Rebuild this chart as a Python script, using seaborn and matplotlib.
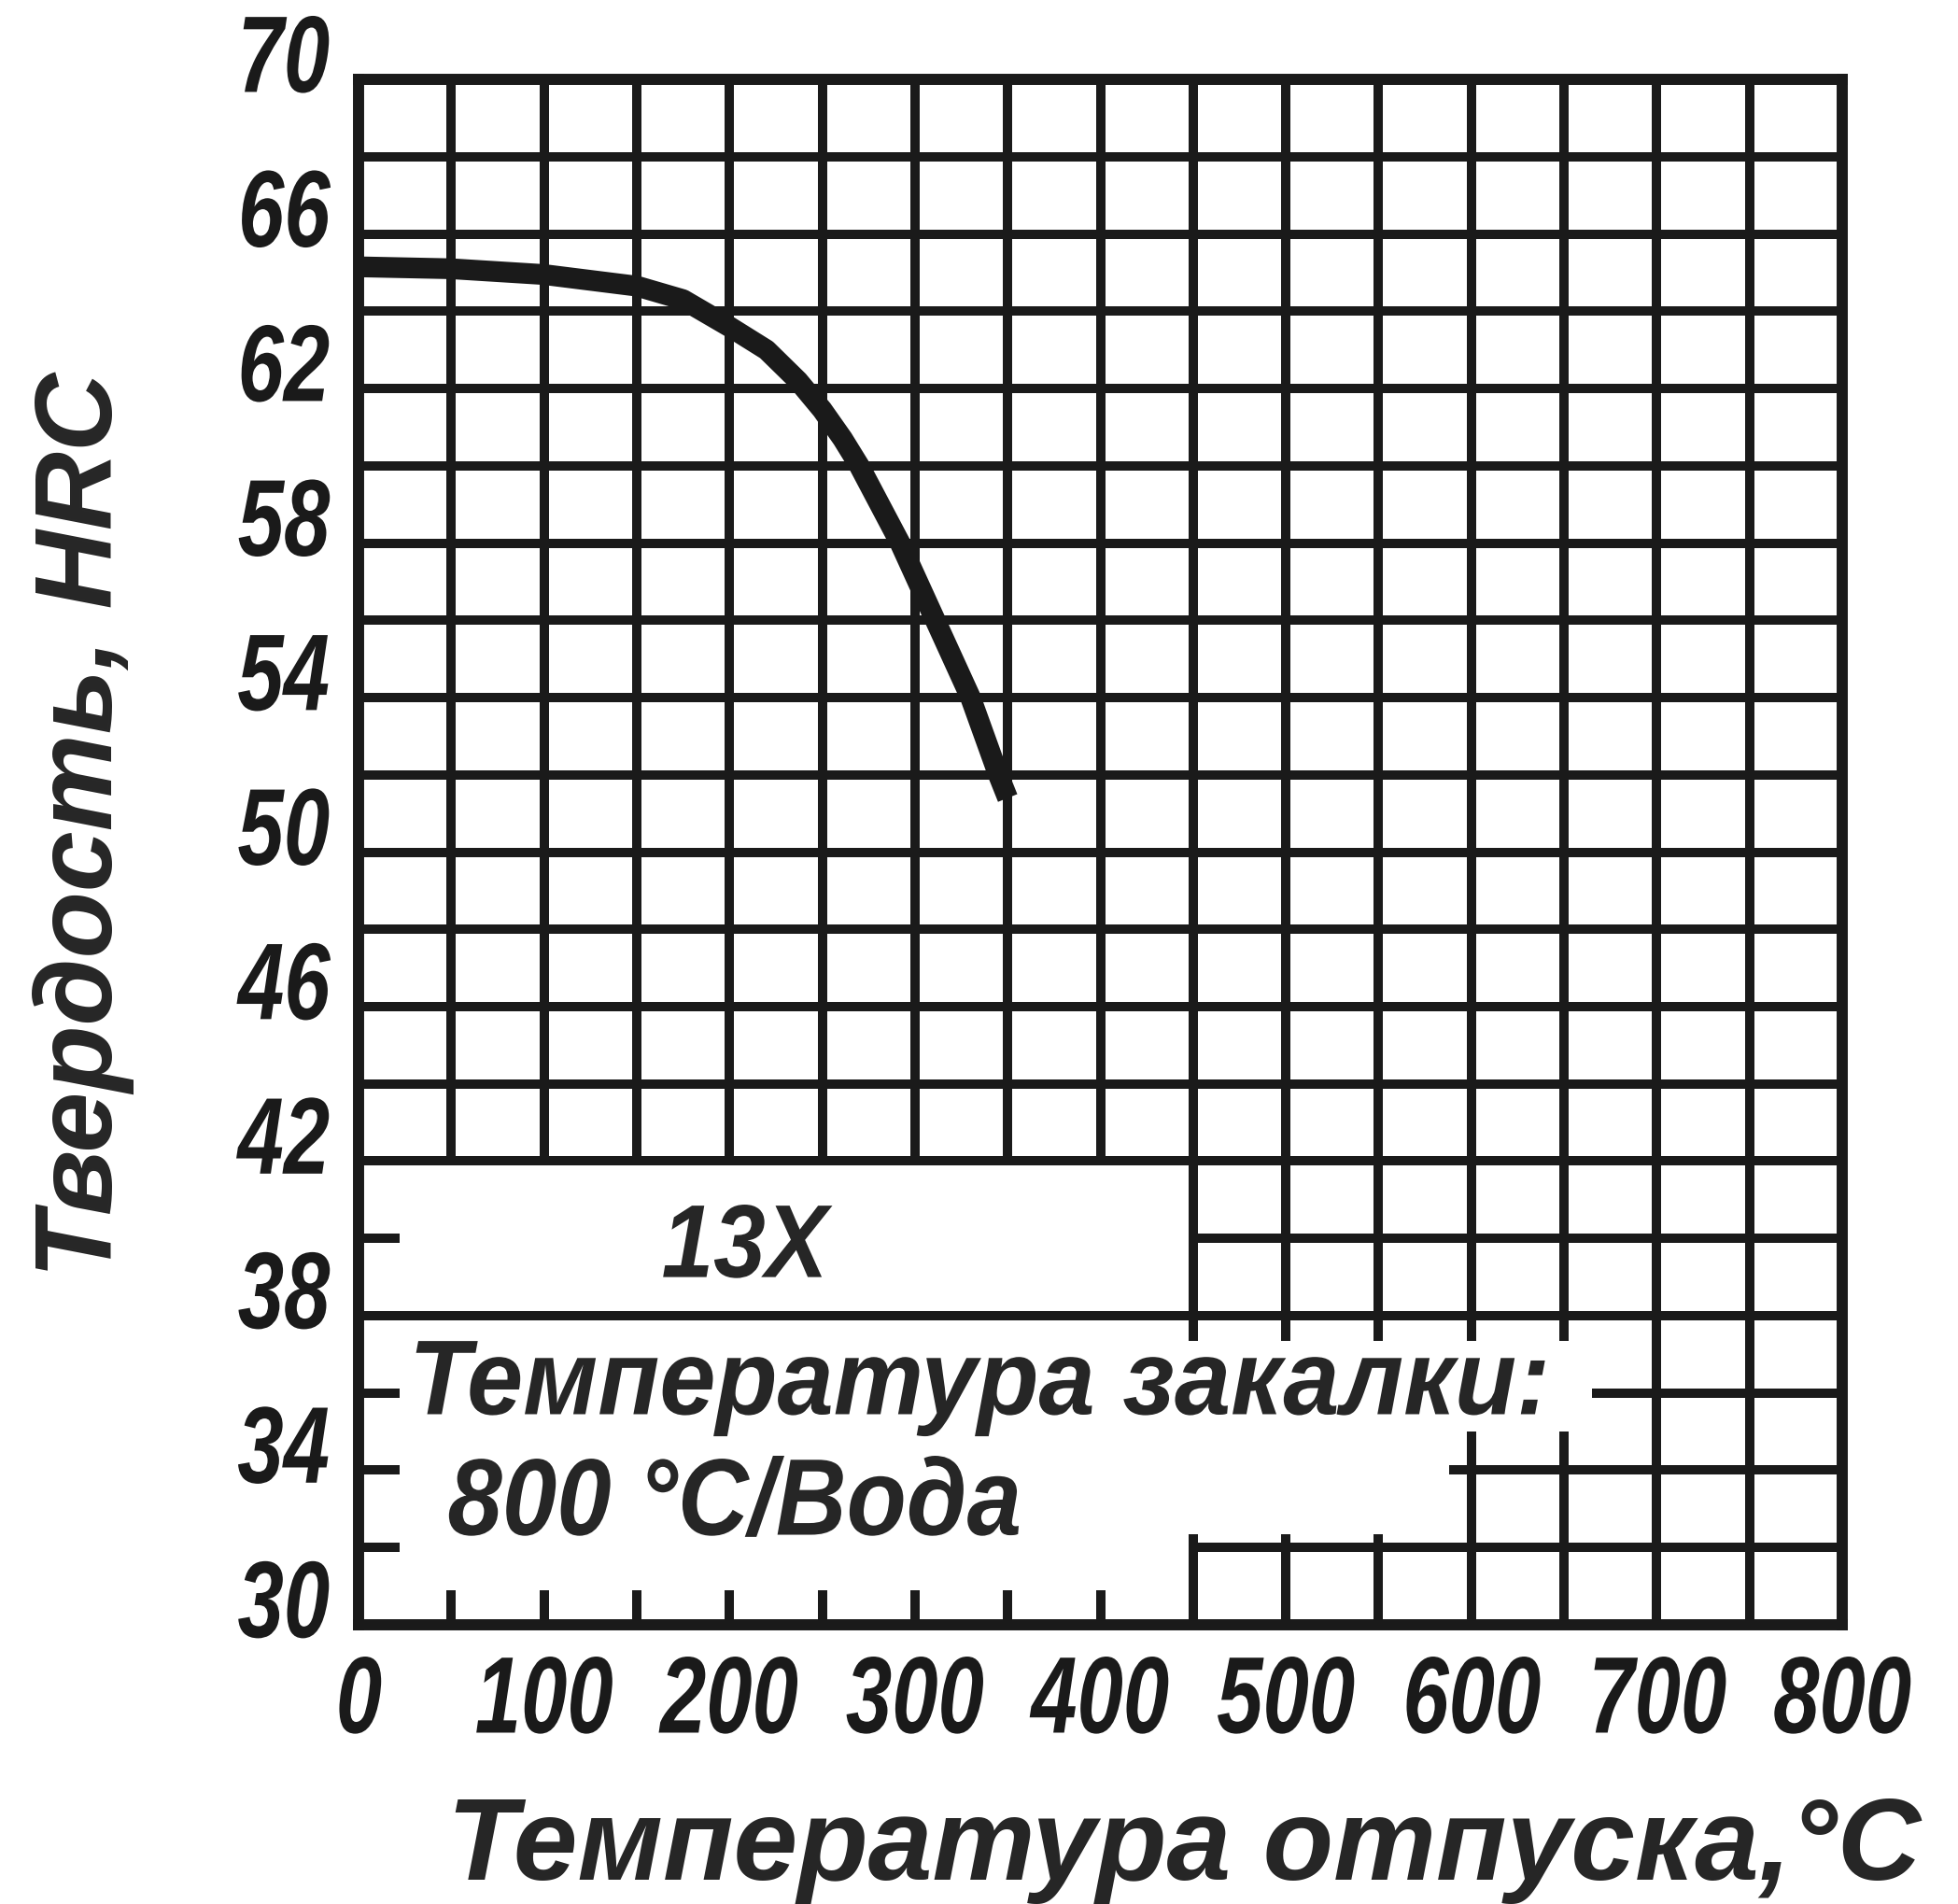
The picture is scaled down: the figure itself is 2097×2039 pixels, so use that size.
import numpy as np
import matplotlib
matplotlib.use('Agg')
import matplotlib.pyplot as plt
from matplotlib.patches import Rectangle
from matplotlib.patheffects import AbstractPathEffect
from matplotlib.transforms import Affine2D, ScaledTranslation
import seaborn as sns

# hardness of steel 13Х after quenching 800 °C / water vs tempering temperature
temper_temp = [0, 50, 100, 150, 175, 200, 220, 237, 250, 261, 270, 292, 311, 330, 345, 350]
hardness = [65.15, 65.1, 64.95, 64.65, 64.3, 63.6, 63.0, 62.2, 61.45, 60.7, 60.0,
            58.0, 56.0, 54.0, 52.0, 51.4]

x_ticks = [0, 100, 200, 300, 400, 500, 600, 700, 800]
x_tick_labels = ['0', '100', '200', '300', '400', '500', '600', '700', '800']
y_ticks = [30, 34, 38, 42, 46, 50, 54, 58, 62, 66, 70]
y_tick_labels = ['30', '34', '38', '42', '46', '50', '54', '58', '62', '66', '70']

steel = '13Х'
quench_line1 = 'Температура закалки:'
quench_line2 = '800 °C/Вода'
x_title = 'Температура отпуска,°C'
y_title = 'Твердость, HRC'

sns.set_theme(style='white')
plt.rcParams['font.family'] = ['Liberation Sans', 'DejaVu Sans']


class SqueezeX(AbstractPathEffect):
    """Draw text glyphs narrower, like the condensed drafting lettering."""

    def __init__(self, sx, anchor='center'):
        super().__init__()
        self.sx = sx
        self.anchor = anchor

    def draw_path(self, renderer, gc, tpath, affine, rgbFace=None):
        ext = tpath.get_extents(affine)
        if self.anchor == 'left':
            x0 = ext.x0
        elif self.anchor == 'right':
            x0 = ext.x1
        else:
            x0 = 0.5 * (ext.x0 + ext.x1)
        squeeze = Affine2D().translate(-x0, 0).scale(self.sx, 1).translate(x0, 0)
        renderer.draw_path(gc, tpath, affine + squeeze, rgbFace)


GRID_LW = 7.2
fig = plt.figure(figsize=(20.97, 20.40), dpi=100)
ax = fig.add_axes([0.1831, 0.1466, 0.7578, 0.8112])

# millimetre-paper style grid
x_grid = np.arange(0, 801, 50)
y_grid = np.arange(30, 71, 2)
ax.vlines(x_grid, 30, 70, colors='k', lw=GRID_LW, zorder=1)
ax.hlines(y_grid, 0, 800, colors='k', lw=GRID_LW, zorder=1)

# blank areas behind the captions
for (x0, y0, w, h) in [(0, 30, 450, 12), (450, 35.0, 215, 2.35), (450, 32.35, 138, 2.65)]:
    ax.add_patch(Rectangle((x0, y0), w, h, fc='white', ec='none', zorder=2))

# frame of the caption box and the short tick stubs
ax.hlines([42, 38], 0, 450, colors='k', lw=GRID_LW, zorder=3)
ax.vlines(450, 37.35, 42, colors='k', lw=GRID_LW, zorder=3)
ax.vlines(450, 30, 32.35, colors='k', lw=GRID_LW, zorder=3)
ax.hlines([32, 34, 36, 40], 0, 22, colors='k', lw=GRID_LW, zorder=3)
ax.vlines(np.arange(50, 401, 50), 30, 30.9, colors='k', lw=GRID_LW, zorder=3)

sns.lineplot(x=temper_temp, y=hardness, ax=ax, color='k', lw=16,
             zorder=6, solid_capstyle='butt', solid_joinstyle='round')

ax.set_xlim(0, 800)
ax.set_ylim(30, 70)
ax.set_xticks(x_ticks)
ax.set_xticklabels(x_tick_labels)
ax.set_yticks(y_ticks)
ax.set_yticklabels(y_tick_labels)
ax.tick_params(length=0, colors='k', labelsize=84)
ax.tick_params(axis='x', pad=22)
ax.tick_params(axis='y', pad=22)

raise_up = ScaledTranslation(0, 21 / 72, fig.dpi_scale_trans)
for lab in ax.get_xticklabels():
    lab.set_style('italic')
    lab.set_weight('bold')
    lab.set_path_effects([SqueezeX(0.76, 'center')])
for lab in ax.get_yticklabels():
    lab.set_style('italic')
    lab.set_weight('bold')
    lab.set_path_effects([SqueezeX(0.76, 'right')])
    lab.set_transform(lab.get_transform() + raise_up)

for s in ax.spines.values():
    s.set_visible(True)
    s.set_color('k')
    s.set_linewidth(8.6)
    s.set_zorder(4)

ax.text(208, 39.0, steel, ha='center', va='baseline', fontsize=80,
        style='italic', weight='bold', zorder=5,
        path_effects=[SqueezeX(0.9, 'center')])
ax.text(27, 35.45, quench_line1, ha='left', va='baseline', fontsize=82,
        style='italic', weight='bold', zorder=5,
        path_effects=[SqueezeX(0.95, 'left')])
ax.text(48, 32.33, quench_line2, ha='left', va='baseline', fontsize=84,
        style='italic', weight='bold', zorder=5,
        path_effects=[SqueezeX(0.9, 'left')])

ax.set_xlabel(x_title, fontsize=89, style='italic', weight='bold', va='center')
ax.xaxis.set_label_coords(0.556, -0.145)
ax.set_ylabel(y_title, fontsize=84, style='italic', weight='bold', va='center')
ax.yaxis.set_label_coords(-0.185, 0.518)

fig.savefig('out.png', dpi=100, facecolor='white')
